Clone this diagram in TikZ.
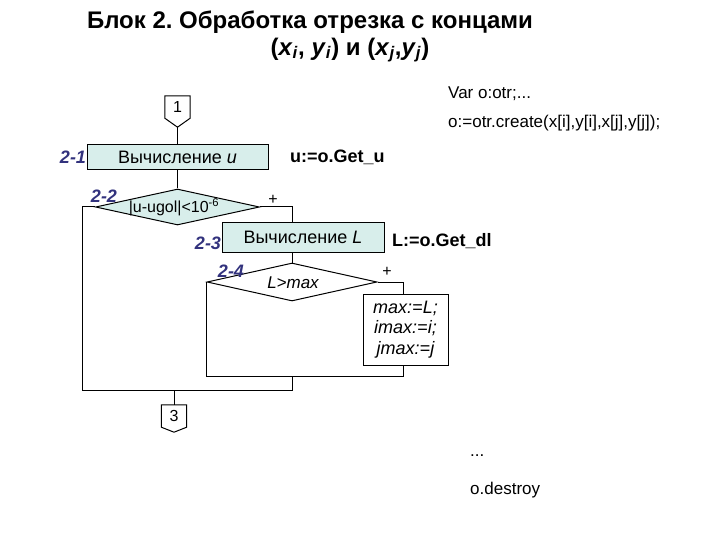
\documentclass[tikz,border=0pt]{standalone}
\usepackage{fontspec}
\setmainfont{Liberation Sans}
\usetikzlibrary{shapes.geometric,calc}
\definecolor{boxfill}{RGB}{216,238,235}
\definecolor{lblcol}{RGB}{50,50,125}
\tikzset{
  line/.style={draw=black, line width=1pt},
  procbox/.style={draw=black, line width=1pt, fill=boxfill, inner sep=0pt, font=\fontsize{18}{20}\selectfont},
  decbox/.style={draw=black, line width=1pt, diamond, inner sep=0pt},
  lbl/.style={text=lblcol, font=\fontsize{18}{20}\selectfont\bfseries\itshape, inner sep=0pt},
  code/.style={font=\fontsize{17}{18}\selectfont, inner sep=0pt, anchor=west},
  codeb/.style={font=\fontsize{18}{20}\selectfont\bfseries, inner sep=0pt, anchor=west},
  conn/.style={inner sep=0pt, minimum width=25pt, minimum height=22pt, font=\fontsize{16}{18}\selectfont},
  ttl/.style={font=\fontsize{24}{28}\selectfont\bfseries, inner sep=0pt},
}
\begin{document}
\frenchspacing
\begin{tikzpicture}[x=1pt,y=-1pt]
\useasboundingbox (0,0) rectangle (720,540);
% title
\node[ttl] (t1) at (310,22) {Блок 2. Обработка отрезка с концами};
\node[ttl] (t2) at (350,50) {(\textit{x}\textsubscript{\textit{i}}, \textit{y}\textsubscript{\textit{i}}) и (\textit{x}\textsubscript{\textit{j}},\textit{y}\textsubscript{\textit{j}})};

% connector 1
\node[conn] (c1) at (177.5,107) {1};
\coordinate (c1t) at ($(c1.south)+(0,9)$);
\draw[line] (c1.north west) -- (c1.north east) -- (c1.south east) -- (c1t) -- (c1.south west) -- cycle;

% box 2-1
\node[procbox, minimum width=181pt, minimum height=25pt] (b21) at (177.5,157.5) {Вычисление \textit{u}};
\draw[line] (c1t) -- (b21.north);

% diamond 2-2
\node[decbox, fill=boxfill, minimum width=164pt, minimum height=36pt] (d22) at (177.5,207) {};
\node[font=\fontsize{16}{18}\selectfont, inner sep=0pt] (d22t) at (174,207) {|u-ugol|<10\textsuperscript{-6}};
\draw[line] (b21.south) -- (d22.north);

% box 2-3
\node[procbox, minimum width=162pt, minimum height=29pt] (b23) at (303,237.5) {Вычисление \textit{L}};
\coordinate (r22) at (292,207);
\draw[line] (d22.east) -- (r22) -- (r22 |- b23.north);

% diamond 2-4
\node[decbox, fill=white, minimum width=170pt, minimum height=38pt] (d24) at (292,282) {};
\node[font=\fontsize{17}{18}\selectfont\itshape, inner sep=0pt] (d24t) at (293,283) {L>max};
\draw[line] (r22 |- b23.south) -- (d24.north);

% box max
\node[draw=black, line width=1pt, fill=white, minimum width=85pt, minimum height=71pt, inner sep=0pt, align=center, font=\fontsize{18}{20.5}\selectfont\itshape] (bmax) at (405.5,329.5) {max:=L;\\imax:=i;\\jmax:=j};
\coordinate (r24) at (403,282);
\draw[line] (d24.east) -- (r24) -- (r24 |- bmax.north);

% merges
\coordinate (m1r) at (403,376);
\coordinate (m1c) at (292,376);
\draw[line] (d24.west) -- (d24.west |- m1r) -- (m1r) -- (m1r |- bmax.south);
\coordinate (m2l) at (82,390);
\coordinate (m2r) at (292,390);
\coordinate (m2c) at (174,390);
\draw[line] (d22.west) -| (m2l) -- (m2r) -- (m1c);

% connector 3
\node[conn] (c3) at (174,416) {3};
\coordinate (c3t) at ($(c3.south)+(0,5)$);
\draw[line] (c3.north west) -- (c3.north east) -- (c3.south east) -- (c3t) -- (c3.south west) -- cycle;
\draw[line] (m2c) -- (c3.north);

% plus signs
\node[font=\fontsize{16}{18}\selectfont, inner sep=0pt] (p1) at (273,200) {+};
\node[font=\fontsize{16}{18}\selectfont, inner sep=0pt] (p2) at (387,272) {+};

% labels
\node[lbl] (l21) at (73,157) {2-1};
\node[lbl] (l22) at (104,196) {2-2};
\node[lbl] (l23) at (208,243) {2-3};
\node[lbl] (l24) at (231,271) {2-4};

% code texts
\node[codeb] (g1) at (290,157) {u:=o.Get\_u};
\node[codeb] (g2) at (392,241) {L:=o.Get\_dl};
\node[code] (v1) at (448,94) {Var o:otr;...};
\node[code] (v2) at (448,123) {o:=otr.create(x[i],y[i],x[j],y[j]);};
\node[code] (v3) at (470,456) {...};
\node[code] (v4) at (470,490) {o.destroy};
\end{tikzpicture}
\end{document}
